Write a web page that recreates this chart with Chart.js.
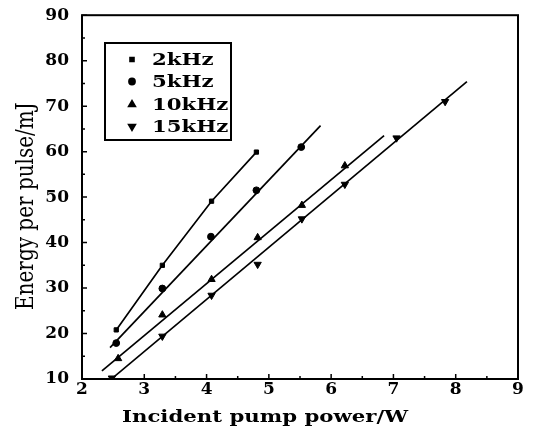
<!DOCTYPE html>
<html><head><meta charset="utf-8">
<script src="https://cdn.jsdelivr.net/npm/chart.js@4/dist/chart.umd.min.js"></script>
<style>html,body{margin:0;padding:0;background:#fff}#wrap{width:533px;height:434px;position:relative}</style>
</head><body><div id="wrap"><canvas id="c" width="533" height="434"></canvas></div>
<script>
// ---- data ----
const seriesLabels = ['2kHz', '5kHz', '10kHz', '15kHz'];
const power2k  = [2.55, 3.29, 4.08, 4.80];
const energy2k = [20.8, 35.0, 49.1, 59.9];
const power5k  = [2.55, 3.29, 4.07, 4.80, 5.52];
const energy5k = [17.9, 29.9, 41.3, 51.5, 61.0];
const power10k  = [2.58, 3.29, 4.08, 4.82, 5.53, 6.22];
const energy10k = [14.5, 24.1, 31.9, 41.1, 48.2, 56.9];
const power15k  = [2.48, 3.29, 4.08, 4.82, 5.53, 6.22, 7.05, 7.83];
const energy15k = [10.2, 19.4, 28.4, 35.2, 45.2, 52.8, 63.0, 71.0];
// fitted lines (end points)
const fit5kX  = [2.45, 5.83];  const fit5kY  = [16.9, 65.7];
const fit10kX = [2.32, 6.85];  const fit10kY = [11.8, 63.5];
const fit15kX = [2.48, 8.18];  const fit15kY = [10.1, 75.4];
const xTickValues = [2, 3, 4, 5, 6, 7, 8, 9];
const yTickValues = [10, 20, 30, 40, 50, 60, 70, 80, 90];
const xTitle = 'Incident pump power/W';
const yTitle = 'Energy per pulse/mJ';

const pts = (xs, ys) => xs.map((x, i) => ({x: x, y: ys[i]}));
const BLACK = '#000';
const SERIF = '"DejaVu Serif", "Liberation Serif", serif';

function markerSet(label, xs, ys, style, radius, rotation, line) {
  return {
    label: label, data: pts(xs, ys), showLine: line, borderColor: BLACK, borderWidth: 1.7,
    pointStyle: style, pointRadius: radius, pointRotation: rotation,
    pointBackgroundColor: BLACK, pointBorderColor: BLACK, pointBorderWidth: 1,
    pointHoverRadius: radius, tension: 0
  };
}
function fitSet(xs, ys) {
  return { label: '', data: pts(xs, ys), showLine: true, borderColor: BLACK, borderWidth: 1.7,
           pointRadius: 0, pointHoverRadius: 0, tension: 0 };
}

const datasets = [
  markerSet(seriesLabels[0], power2k, energy2k, 'rect', 3.0, 0, true),
  markerSet(seriesLabels[1], power5k, energy5k, 'circle', 3.4, 0, false),
  markerSet(seriesLabels[2], power10k, energy10k, 'triangle', 4.2, 0, false),
  markerSet(seriesLabels[3], power15k, energy15k, 'triangle', 4.2, 180, false),
  fitSet(fit5kX, fit5kY), fitSet(fit10kX, fit10kY), fitSet(fit15kX, fit15kY)
];

function drawMarker(ctx, style, rotation, r, x, y) {
  if (Chart.helpers && Chart.helpers.drawPoint) {
    ctx.fillStyle = BLACK; ctx.strokeStyle = BLACK;
    Chart.helpers.drawPoint(ctx, {pointStyle: style, rotation: rotation, radius: r, borderWidth: 1}, x, y);
  }
}
function stretchText(ctx, text, x, y, sx, font) {
  ctx.save(); ctx.translate(x, y); ctx.scale(sx, 1); ctx.font = font;
  ctx.fillStyle = BLACK; ctx.textBaseline = 'alphabetic'; ctx.textAlign = 'left';
  ctx.fillText(text, 0, 0); ctx.restore();
}

const decor = {
  id: 'decor',
  afterDraw(chart) {
    const ctx = chart.ctx, a = chart.chartArea;
    const xs = chart.scales.x, ys = chart.scales.y;
    ctx.save();
    // frame
    ctx.strokeStyle = BLACK; ctx.lineWidth = 2;
    ctx.strokeRect(a.left, a.top, a.right - a.left, a.bottom - a.top);
    // inward ticks
    ctx.lineWidth = 1.5;
    ctx.beginPath();
    for (let v = xs.min; v <= xs.max + 1e-9; v += 0.5) {
      const px = xs.getPixelForValue(v);
      const len = Math.abs(v - Math.round(v)) < 1e-6 ? 5 : 3;
      ctx.moveTo(px, a.bottom); ctx.lineTo(px, a.bottom - len);
    }
    for (let v = ys.min; v <= ys.max + 1e-9; v += 5) {
      const py = ys.getPixelForValue(v);
      const len = (v % 10 === 0) ? 5 : 3;
      ctx.moveTo(a.left, py); ctx.lineTo(a.left + len, py);
    }
    ctx.stroke();
    // legend box
    ctx.lineWidth = 2;
    ctx.strokeRect(105, 43, 126, 97);
    const rows = [65, 87, 110, 132];
    chart.data.datasets.slice(0, 4).forEach((ds, i) => {
      drawMarker(ctx, ds.pointStyle, ds.pointRotation, ds.pointRadius * 0.85, 132, rows[i] - 5.5);
      stretchText(ctx, ds.label, 152, rows[i], 1.25, 'bold 17px ' + SERIF);
    });
    // axis titles
    stretchText(ctx, xTitle, 122, 421.5, 1.25, 'bold 17px ' + SERIF);
    ctx.save();
    ctx.translate(33, 310); ctx.rotate(-Math.PI / 2); ctx.scale(1, 1.25);
    ctx.font = '20px ' + SERIF; ctx.fillStyle = BLACK; ctx.textAlign = 'left'; ctx.textBaseline = 'alphabetic';
    ctx.fillText(yTitle, 0, 0);
    ctx.restore();
    ctx.restore();
  }
};

new Chart(document.getElementById('c'), {
  type: 'scatter',
  data: { datasets: datasets },
  options: {
    responsive: false, animation: false, devicePixelRatio: 1,
    layout: { padding: { top: 11, right: 15, left: 0, bottom: 0 } },
    plugins: { legend: { display: false }, tooltip: { enabled: false } },
    scales: {
      x: {
        type: 'linear', min: 2, max: 9,
        afterFit(s) { s.height = 55; },
        afterBuildTicks(s) { s.ticks = xTickValues.map(v => ({value: v})); },
        grid: { display: false }, border: { display: false },
        ticks: { color: BLACK, padding: -8, font: { family: SERIF, size: 17, weight: 'bold' }, maxRotation: 0 }
      },
      y: {
        type: 'linear', min: 10, max: 90,
        afterFit(s) { s.width = 82; },
        afterBuildTicks(s) { s.ticks = yTickValues.map(v => ({value: v})); },
        grid: { display: false }, border: { display: false },
        ticks: { color: BLACK, padding: 5, font: { family: SERIF, size: 17, weight: 'bold' } }
      }
    }
  },
  plugins: [decor]
});
</script></body></html>
